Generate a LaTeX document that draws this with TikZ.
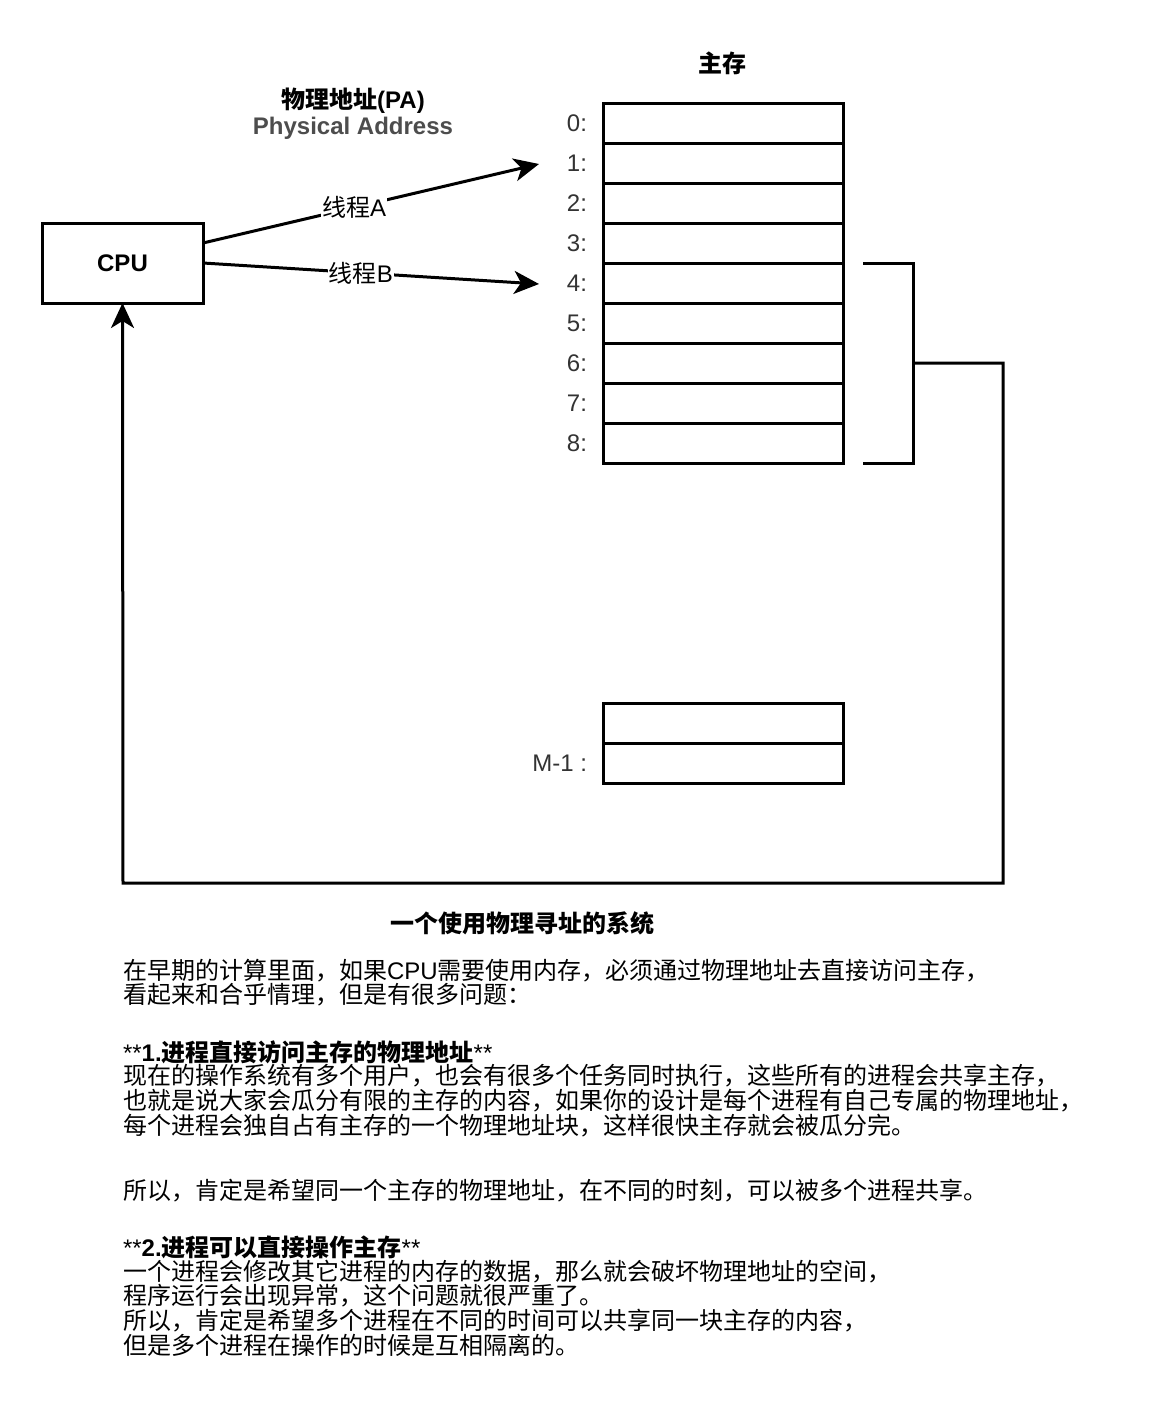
\documentclass[tikz,border=0pt]{standalone}
\usepackage{fontspec}
\setmainfont{Liberation Sans}
\newfontfamily\cjk{Noto Sans CJK SC}
\usetikzlibrary{arrows.meta}
\newcommand\zh[1]{{\cjk #1}}
\definecolor{labgray}{HTML}{333333}
\definecolor{subgray}{HTML}{4D4D4D}
\begin{document}
\begin{tikzpicture}[x=1pt,y=-1pt,
  every node/.style={font=\fontsize{24}{25}\selectfont, inner sep=0pt, outer sep=0pt},
  cell/.style={draw, line width=3pt, minimum width=240pt, minimum height=40pt, inner sep=0pt},
  cpubox/.style={draw, line width=3pt, minimum width=161pt, minimum height=80pt, font=\fontsize{24}{25}\selectfont\bfseries},
  wire/.style={line width=3pt},
  arr/.style={line width=3pt, -{Stealth[length=25pt,width=23pt,inset=7pt]}},
  addr/.style={anchor=east, text=labgray},
  lbl/.style={fill=white, inner sep=1pt},
  body/.style={anchor=west, text=black},
  title/.style={font=\fontsize{24}{25}\selectfont\bfseries}
]
\fill[white] (0,0) rectangle (1164,1424);
\useasboundingbox (0,0) rectangle (1164,1424);

% titles
\node[title] (mtitle) at (722,63) {\zh{主存}};
\node[title] (patitle) at (353,101) {\zh{物理地址}(PA)};
\node[title, text=subgray] (pasub) at (353,128) {Physical Address};

% CPU
\node[cpubox] (cpu) at (122.5,263) {CPU};

% memory cells
\foreach \i in {0,...,8} {
  \node[cell] (c\i) at (723,{123+40*\i}) {};
  \node[addr] (a\i) at (587,{123+40*\i}) {\i:};
}
\node[cell] (cx) at (723,723) {};
\node[cell] (cm) at (723,763) {};
\node[addr] (am) at (587,763) {M-1 :};

% arrows from CPU
\coordinate (tipA) at (539,164);
\coordinate (tipB) at (539,284);
\draw[arr] ([yshift=20pt]cpu.east) -- node[lbl, pos=0.45] {\zh{线程}A} (tipA);
\draw[arr] (cpu.east) -- node[lbl, pos=0.47] {\zh{线程}B} (tipB);

% bracket
\coordinate (bt) at (863,263);
\coordinate (bb) at (863,463);
\coordinate (bm) at (913,363);
\coordinate (rt) at (1003,363);
\coordinate (rb) at (1003,883);
\coordinate (lb) at (123,883);
\draw[wire] (bt) -| (bm) |- (bb);
\draw[arr] (bm) -- (rt) -- (rb) -- (lb) -- (cpu.south);

% caption
\node[title] (cap) at (522,923) {\zh{一个使用物理寻址的系统}};

% body text
\node[body] (t1) at (123,971) {\zh{在早期的计算里面，如果}CPU\zh{需要使用内存，必须通过物理地址去直接访问主存，}};
\node[body] (t2) at (123,995) {\zh{看起来和合乎情理，但是有很多问题：}};
\node[body] (h1) at (123,1052) {**\textbf{1.\zh{进程直接访问主存的物理地址}}**};
\node[body] (t4) at (123,1076) {\zh{现在的操作系统有多个用户，也会有很多个任务同时执行，这些所有的进程会共享主存，}};
\node[body] (t5) at (123,1101) {\zh{也就是说大家会瓜分有限的主存的内容，如果你的设计是每个进程有自己专属的物理地址，}};
\node[body] (t6) at (123,1126) {\zh{每个进程会独自占有主存的一个物理地址块，这样很快主存就会被瓜分完。}};
\node[body] (t7) at (123,1191) {\zh{所以，肯定是希望同一个主存的物理地址，在不同的时刻，可以被多个进程共享。}};
\node[body] (h2) at (123,1247) {**\textbf{2.\zh{进程可以直接操作主存}}**};
\node[body] (t9) at (123,1272) {\zh{一个进程会修改其它进程的内存的数据，那么就会破坏物理地址的空间，}};
\node[body] (t10) at (123,1296) {\zh{程序运行会出现异常，这个问题就很严重了。}};
\node[body] (t11) at (123,1321) {\zh{所以，肯定是希望多个进程在不同的时间可以共享同一块主存的内容，}};
\node[body] (t12) at (123,1345) {\zh{但是多个进程在操作的时候是互相隔离的。}};
\end{tikzpicture}
\end{document}
